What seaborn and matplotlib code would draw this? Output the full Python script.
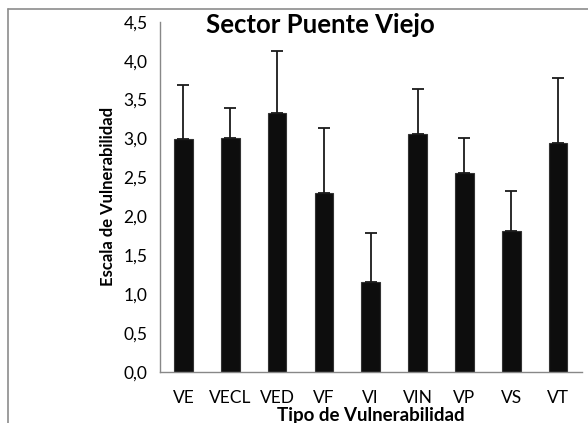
import matplotlib
matplotlib.use("Agg")
import matplotlib.pyplot as plt
import numpy as np
import pandas as pd
import seaborn as sns
from matplotlib.lines import Line2D
from matplotlib.ticker import FixedLocator

categories = ["VE", "VECL", "VED", "VF", "VI", "VIN", "VP", "VS", "VT"]
means = [2.99, 3.00, 3.33, 2.30, 1.15, 3.06, 2.56, 1.81, 2.94]
errors = [0.70, 0.39, 0.79, 0.84, 0.64, 0.58, 0.45, 0.52, 0.84]
yticks = [0.0, 0.5, 1.0, 1.5, 2.0, 2.5, 3.0, 3.5, 4.0, 4.5]

sns.set_theme(style="white")
plt.rcParams["font.family"] = ["Lato", "DejaVu Sans"]
plt.rcParams["text.color"] = "black"
plt.rcParams["axes.labelcolor"] = "black"

df = pd.DataFrame({"tipo": categories, "valor": means})

fig = plt.figure(figsize=(5.88, 4.23), dpi=100)
ax = fig.add_axes([0.272, 0.1213, 0.717, 0.827])

sns.barplot(data=df, x="tipo", y="valor", color="#0d0d0d", width=0.4,
            errorbar=None, ax=ax, saturation=1, edgecolor="#333333", linewidth=0.8)

xpos = np.arange(len(categories))
ax.errorbar(xpos, means, yerr=[np.zeros(len(errors)), errors], fmt="none",
            ecolor="#1a1a1a", elinewidth=1.3, capsize=4, capthick=1.3, zorder=1)

ax.set_ylim(0, 4.5)
ax.set_xlim(-0.5, len(categories) - 0.5)
ax.set_yticks(yticks)
ax.set_yticklabels([f"{v:.1f}".replace(".", ",") for v in yticks])

ax.xaxis.set_minor_locator(FixedLocator(np.arange(-0.5, len(categories), 1.0)))
ax.tick_params(axis="x", which="major", length=0, pad=13, labelsize=12.5,
               labelcolor="black")
ax.tick_params(axis="x", which="minor", length=5, width=1, color="#888888", direction="out")
ax.tick_params(axis="y", which="major", length=5, width=1, color="#888888",
               direction="out", labelsize=12.5, pad=4, labelcolor="black")

for side in ["top", "right"]:
    ax.spines[side].set_visible(False)
for side in ["left", "bottom"]:
    ax.spines[side].set_color("#888888")
    ax.spines[side].set_linewidth(1.0)

ax.set_xlabel("Tipo de Vulnerabilidad", fontsize=13.5, fontweight="bold", labelpad=1)
ax.set_ylabel("Escala de Vulnerabilidad", fontsize=12, fontweight="bold", labelpad=5)
ax.set_title("Sector Puente Viejo", fontsize=18.5, fontweight="bold", y=0.945, x=0.38)

# chart frame
fig.add_artist(Line2D([8 / 588, 8 / 588], [0, 1 - 9 / 423], transform=fig.transFigure,
                      color="#8c8c8c", linewidth=1.2))
fig.add_artist(Line2D([8 / 588, 1], [1 - 9 / 423, 1 - 9 / 423], transform=fig.transFigure,
                      color="#8c8c8c", linewidth=1.2))

fig.savefig("out.png", dpi=100)
